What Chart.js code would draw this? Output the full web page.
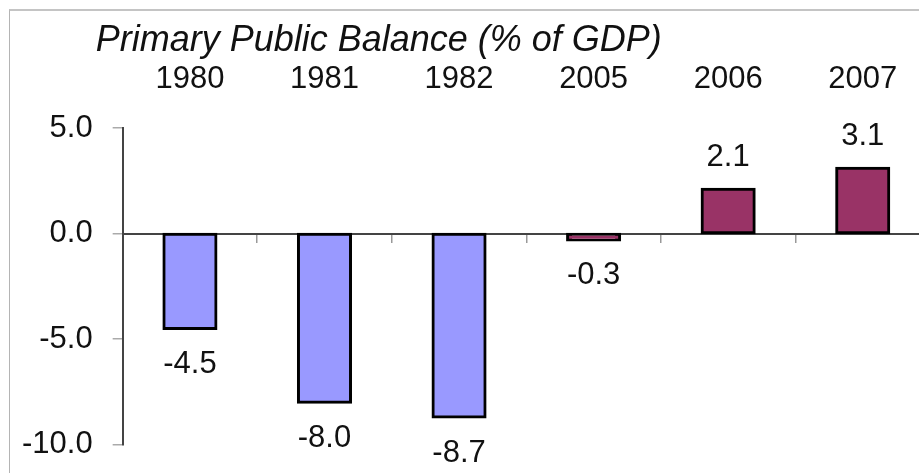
<!DOCTYPE html>
<html>
<head>
<meta charset="utf-8">
<script src="https://cdn.jsdelivr.net/npm/chart.js@4"></script>
<style>
  html, body { margin: 0; padding: 0; background: #fff; }
  #wrap { position: relative; width: 919px; height: 473px; overflow: hidden; }
  #frame { position: absolute; left: 9px; top: 9px; width: 1000px; height: 1000px;
           border-top: 2px solid #c4c4c4; border-left: 1px solid #b4b4b4; }
  canvas { position: absolute; left: 0; top: 0; }
</style>
</head>
<body>
<div id="wrap">
  <div id="frame"></div>
  <!-- a bit larger than the window; the plot runs off the right and bottom like the original -->
  <canvas id="chart" width="940" height="483"></canvas>
</div>
<script>
'use strict';

const TITLE = 'Primary Public Balance (% of GDP)';
const years = ['1980', '1981', '1982', '2005', '2006', '2007'];
const balance = [-4.5, -8.0, -8.7, -0.3, 2.1, 3.1];
const yMin = -10, yMax = 5, yStep = 5;

const FONT_FAMILY = '"Liberation Sans", Arial, sans-serif';
const TEXT = '#111';

Chart.defaults.font.family = FONT_FAMILY;
Chart.defaults.color = TEXT;

// Value labels under/over each bar, plus the italic title
const balkLabels = {
  id: 'balkLabels',
  afterDatasetsDraw(chart) {
    const { ctx, chartArea } = chart;
    const meta = chart.getDatasetMeta(0);
    ctx.save();
    ctx.fillStyle = TEXT;
    ctx.font = '31px ' + FONT_FAMILY;
    ctx.textAlign = 'center';
    ctx.textBaseline = 'middle';
    meta.data.forEach((bar, i) => {
      const v = balance[i];
      ctx.fillText(v.toFixed(1), bar.x, v < 0 ? bar.y + 36 : bar.y - 32);
    });
    ctx.font = 'italic 36px ' + FONT_FAMILY;
    ctx.textAlign = 'left';
    ctx.textBaseline = 'alphabetic';
    ctx.fillText(TITLE, chartArea.left - 27, 51);
    ctx.restore();
  }
};

new Chart(document.getElementById('chart'), {
  type: 'bar',
  plugins: [balkLabels],
  data: {
    labels: years,
    datasets: [{
      data: balance,
      backgroundColor: c => Number(years[c.dataIndex]) < 2000 ? '#9999ff' : '#993366',
      borderColor: '#000',
      borderWidth: 3,
      borderSkipped: false,
      inflateAmount: 1.5,   // border straddles the edge, like the office chart
      barPercentage: 0.387,
      categoryPercentage: 1
    }]
  },
  options: {
    responsive: false,
    animation: false,
    // ticks.padding is counted twice by the axis fit, hence the small numbers
    layout: { padding: { left: 2, right: 10, top: 31, bottom: 20 } },
    plugins: { legend: { display: false }, tooltip: { enabled: false } },
    scales: {
      x: {
        position: 'top',
        offset: true,
        grid: { display: false, drawTicks: false },
        border: { display: false },
        ticks: { font: { size: 31 }, color: TEXT, padding: 30, maxRotation: 0 }
      },
      x2: {
        type: 'category',
        position: { y: 0 },
        offset: true,
        grid: { offset: true, drawOnChartArea: false, color: '#999', lineWidth: 1.5, tickLength: 8 },
        border: { display: true, color: '#444', width: 2 },
        ticks: { display: false }
      },
      y: {
        min: yMin,
        max: yMax,
        ticks: { stepSize: yStep, font: { size: 31 }, color: TEXT, padding: 20, callback: v => v.toFixed(1) },
        grid: { drawOnChartArea: false, color: '#aaa', lineWidth: 1.5, tickLength: 10 },
        border: { display: true, color: '#444', width: 2 }
      }
    }
  }
});
</script>
</body>
</html>
